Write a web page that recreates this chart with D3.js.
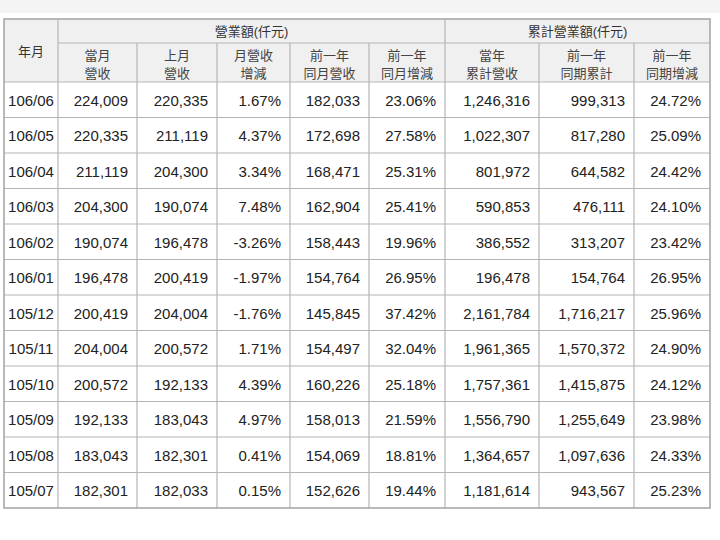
<!DOCTYPE html>
<html><head><meta charset="utf-8">
<script src="https://cdn.jsdelivr.net/npm/d3@7"></script>
<style>body{margin:0;background:#fff}</style>
</head><body><svg id="chart"></svg>
<script>
const months = ["106/06","106/05","106/04","106/03","106/02","106/01","105/12","105/11","105/10","105/09","105/08","105/07"];
const curMonth = [224009,220335,211119,204300,190074,196478,200419,204004,200572,192133,183043,182301];
const prevMonth = [220335,211119,204300,190074,196478,200419,204004,200572,192133,183043,182301,182033];
const momChange = [1.67,4.37,3.34,7.48,-3.26,-1.97,-1.76,1.71,4.39,4.97,0.41,0.15];
const lastYearMonth = [182033,172698,168471,162904,158443,154764,145845,154497,160226,158013,154069,152626];
const yoyChange = [23.06,27.58,25.31,25.41,19.96,26.95,37.42,32.04,25.18,21.59,18.81,19.44];
const ytd = [1246316,1022307,801972,590853,386552,196478,2161784,1961365,1757361,1556790,1364657,1181614];
const lastYtd = [999313,817280,644582,476111,313207,154764,1716217,1570372,1415875,1255649,1097636,943567];
const ytdChange = [24.72,25.09,24.42,24.10,23.42,26.95,25.96,24.90,24.12,23.98,24.33,25.23];
const groupHeaders = ["營業額(仟元)","累計營業額(仟元)"];
const colHeaders = [["當月","營收"],["上月","營收"],["月營收","增減"],["前一年","同月營收"],["前一年","同月增減"],["當年","累計營收"],["前一年","同期累計"],["前一年","同期增減"]];

const W = 720, H = 540;
const svg = d3.select("#chart").attr("width", W).attr("height", H)
  .style("font-family","'Liberation Sans',Arial,'Noto Sans CJK TC',sans-serif");
svg.append("rect").attr("x",0).attr("y",0).attr("width",W).attr("height",13).attr("fill","#f4f4f4");

const edges = [4,58,137,217,290,369,445,539,634,710];
const tableTop = 19, h1 = 43, h2 = 82, bottom = 508;
const y = d3.scaleBand().domain(months).range([h2, bottom]);
const fmt = d3.format(",");
const pct = v => v.toFixed(2) + "%";
const cols = [curMonth.map(fmt), prevMonth.map(fmt), momChange.map(pct), lastYearMonth.map(fmt), yoyChange.map(pct), ytd.map(fmt), lastYtd.map(fmt), ytdChange.map(pct)];
const line = "#b5b5b5";

// header background
svg.append("rect").attr("x",edges[0]).attr("y",tableTop).attr("width",edges[9]-edges[0]).attr("height",h2-tableTop).attr("fill","#f0f0f0");

// header text
svg.append("text").attr("x",(edges[0]+edges[1])/2).attr("y",(tableTop+h2)/2+5).attr("text-anchor","middle").attr("font-size",13).attr("fill","#333").text("年月");
[[1,6],[6,9]].forEach((r,i)=>{
  svg.append("text").attr("x",(edges[r[0]]+edges[r[1]])/2).attr("y",(tableTop+h1)/2+5).attr("text-anchor","middle").attr("font-size",13).attr("fill","#333").text(groupHeaders[i]);
});
colHeaders.forEach((c,i)=>{
  const cx = (edges[i+1]+edges[i+2])/2;
  c.forEach((t,j)=>svg.append("text").attr("x",cx).attr("y",h1+17+j*18).attr("text-anchor","middle").attr("font-size",13).attr("fill","#444").text(t));
});

// body cells
const rows = svg.append("g").selectAll("g").data(months).join("g").attr("transform", d=>`translate(0,${y(d)+y.bandwidth()/2+6})`);
rows.append("text").attr("x",(edges[0]+edges[1])/2).attr("text-anchor","middle").attr("font-size",15).attr("fill","#222").text(d=>d);
cols.forEach((col,ci)=>{
  rows.append("text").attr("x",edges[ci+2]-9).attr("text-anchor","end").attr("font-size",15).attr("fill","#222").text((d,i)=>col[i]);
});

// grid lines
const g = svg.append("g").attr("stroke",line).attr("stroke-width",1.2);
g.selectAll(".h").data(months.slice(1)).join("line").attr("x1",edges[0]).attr("x2",edges[9]).attr("y1",d=>y(d)).attr("y2",d=>y(d));
g.append("line").attr("x1",edges[0]).attr("x2",edges[9]).attr("y1",h2).attr("y2",h2);
g.append("line").attr("x1",edges[1]).attr("x2",edges[9]).attr("y1",h1).attr("y2",h1);
edges.slice(1,9).forEach(x=>{
  g.append("line").attr("x1",x).attr("x2",x).attr("y1",(x===edges[1]||x===edges[6])?tableTop:h1).attr("y2",bottom);
});
g.append("rect").attr("x",edges[0]).attr("y",tableTop).attr("width",edges[9]-edges[0]).attr("height",bottom-tableTop).attr("fill","none").attr("stroke","#a8a8a8").attr("stroke-width",1.6);
</script></body></html>
